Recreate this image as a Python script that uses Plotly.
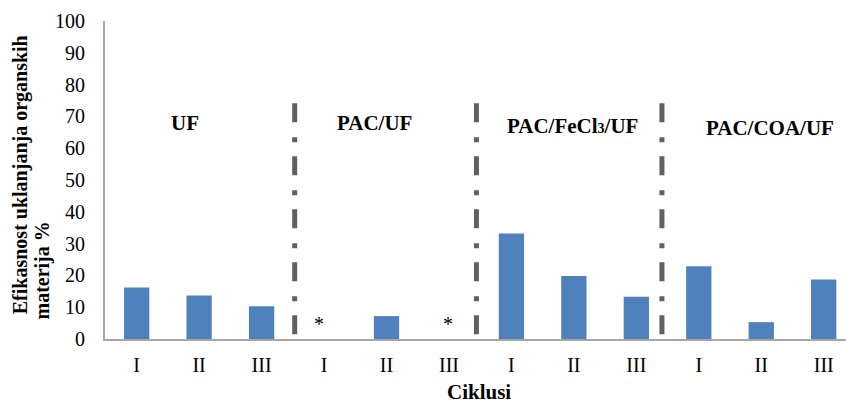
import plotly.graph_objects as go

# Data
cycle_labels = ["I", "II", "III", "I", "II", "III", "I", "II", "III", "I", "II", "III"]
values = [16.2, 13.7, 10.3, 0, 7.2, 0, 33.2, 19.8, 13.3, 22.9, 5.3, 18.7]
group_names = ["UF", "PAC/UF", "PAC/FeCl<span style='font-size:14px'>3</span>/UF", "PAC/COA/UF"]
group_label_x = [0.78, 3.8, 6.97, 10.14]
group_label_y = [67.8, 67.8, 67.0, 66.4]
divider_x = [2.53, 5.44, 8.41]
asterisk_x = [2.92, 4.99]
asterisk_y = [5.6, 5.6]
y_ticks = list(range(0, 101, 10))

FONT = "Liberation Serif"
x_pos = list(range(len(values)))

fig = go.Figure()
fig.add_trace(go.Bar(
    x=x_pos, y=values, width=0.405,
    marker=dict(color="#4F81BD", line=dict(width=0)),
    hoverinfo="skip",
))

for dx in divider_x:
    fig.add_shape(type="line", xref="x", yref="y", x0=dx, x1=dx, y0=74.1, y1=0.4,
                  line=dict(color="#606060", width=5, dash="19px,15px,5px,14px"))

annotations = []
for name, gx, gy in zip(group_names, group_label_x, group_label_y):
    annotations.append(dict(x=gx, y=gy, xref="x", yref="y", text="<b>" + name + "</b>",
                            showarrow=False, font=dict(family=FONT, size=21, color="black"),
                            xanchor="center", yanchor="middle"))
for ax, ay in zip(asterisk_x, asterisk_y):
    annotations.append(dict(x=ax, y=ay, xref="x", yref="y", text="*", showarrow=False,
                            font=dict(family=FONT, size=20, color="black"),
                            xanchor="center", yanchor="middle", yshift=-3))
# y-axis title (two lines, start-aligned)
annotations.append(dict(x=0, y=0.07, xref="paper", yref="paper", xshift=-85,
                        text="<b>Efikasnost uklanjanja organskih</b>", textangle=-90,
                        showarrow=False, font=dict(family=FONT, size=20, color="black"),
                        xanchor="center", yanchor="bottom"))
annotations.append(dict(x=0, y=0.055, xref="paper", yref="paper", xshift=-62,
                        text="<b>materija %</b>", textangle=-90,
                        showarrow=False, font=dict(family=FONT, size=20, color="black"),
                        xanchor="center", yanchor="bottom"))
# x-axis title
annotations.append(dict(x=0.505, y=-0.168, xref="paper", yref="paper",
                        text="<b>Ciklusi</b>", showarrow=False,
                        font=dict(family=FONT, size=21, color="black"),
                        xanchor="center", yanchor="middle"))

fig.update_layout(
    width=846, height=401,
    margin=dict(l=105, r=0, t=21, b=62),
    paper_bgcolor="white", plot_bgcolor="white",
    showlegend=False,
    annotations=annotations,
    xaxis=dict(range=[-0.507, 11.357], tickmode="array", tickvals=x_pos, ticktext=cycle_labels,
               showline=True, linecolor="#A6A6A6", linewidth=2, showgrid=False, zeroline=False,
               ticks="", ticklabelstandoff=7,
               tickfont=dict(family=FONT, size=20, color="black")),
    yaxis=dict(range=[0, 100], tickmode="array", tickvals=y_ticks,
               showline=True, linecolor="#A6A6A6", linewidth=2, showgrid=False, zeroline=False,
               ticks="", ticklabelstandoff=14,
               tickfont=dict(family=FONT, size=20, color="black")),
)

fig.write_html("out.html")
